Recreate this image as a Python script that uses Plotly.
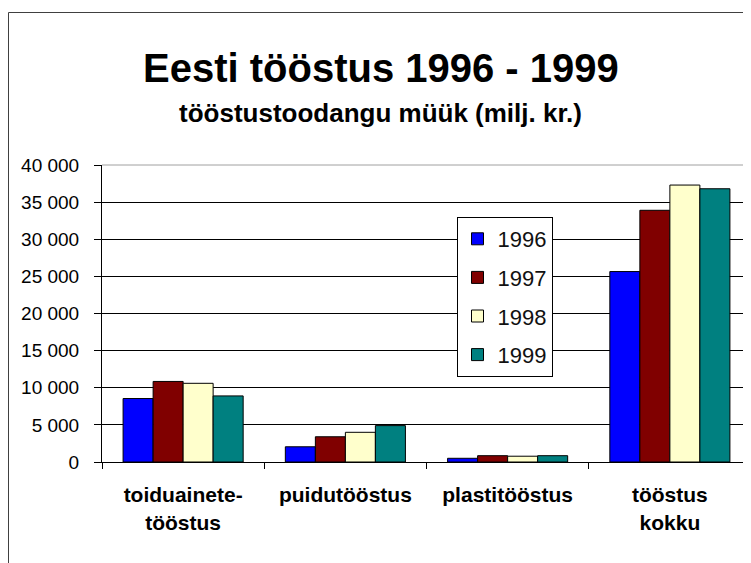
import plotly.graph_objects as go

categories = ["toiduainete-<br>tööstus", "puidutööstus", "plastitööstus", "tööstus<br>kokku"]
years = ["1996", "1997", "1998", "1999"]
sales_1996 = [8550, 2050, 500, 25650]
sales_1997 = [10850, 3400, 850, 33900]
sales_1998 = [10600, 4000, 780, 37300]
sales_1999 = [8900, 4900, 850, 36800]
y_ticks = [0, 5000, 10000, 15000, 20000, 25000, 30000, 35000, 40000]

colors = ["#0000ff", "#800000", "#ffffcc", "#008080"]
FONT = "Liberation Sans, Arial, sans-serif"

# page body has an 8px margin, so the figure is drawn 8px smaller than the window
W, H = 743, 555
L, T, B = 94, 157, 101
PW, PH = W - L, H - T - B


def px_x(x):
    return (x - 8 - L) / PW


def px_y(y):
    return 1 - (y - 8 - T) / PH


fig = go.Figure()
for year, values, color in zip(years, [sales_1996, sales_1997, sales_1998, sales_1999], colors):
    fig.add_trace(
        go.Bar(
            x=categories,
            y=values,
            name=year,
            legendgroup=year,
            marker={"color": color, "line": {"color": "black", "width": 1}},
        )
    )

fig.update_layout(
    width=W,
    height=H,
    paper_bgcolor="white",
    plot_bgcolor="white",
    font={"family": FONT, "color": "black"},
    separators=", ",
    barmode="group",
    bargap=0.26,
    bargroupgap=0,
    margin={"l": L, "r": 0, "t": T, "b": B},
    legend={
        "x": px_x(456.5),
        "y": px_y(217),
        "xanchor": "left",
        "yanchor": "top",
        "bgcolor": "white",
        "bordercolor": "black",
        "borderwidth": 1,
        "font": {"size": 22, "color": "#111111"},
        "traceorder": "grouped",
        "tracegroupgap": 7,
        "itemwidth": 30,
    },
    annotations=[
        {
            "text": "<b>Eesti tööstus 1996 - 1999</b>",
            "xref": "paper",
            "yref": "paper",
            "x": px_x(381),
            "y": px_y(68),
            "xanchor": "center",
            "yanchor": "middle",
            "showarrow": False,
            "font": {"size": 40, "family": FONT},
        },
        {
            "text": "<b>tööstustoodangu müük (milj. kr.)</b>",
            "xref": "paper",
            "yref": "paper",
            "x": px_x(380),
            "y": px_y(113),
            "xanchor": "center",
            "yanchor": "middle",
            "showarrow": False,
            "font": {"size": 26, "family": FONT},
        },
    ],
    shapes=[
        {
            "type": "line",
            "xref": "paper",
            "yref": "paper",
            "x0": px_x(8.5),
            "x1": px_x(8.5),
            "y0": px_y(563),
            "y1": px_y(12.5),
            "line": {"color": "#404040", "width": 1},
        },
        {
            "type": "line",
            "xref": "paper",
            "yref": "paper",
            "x0": px_x(8.5),
            "x1": 1.01,
            "y0": px_y(12.5),
            "y1": px_y(12.5),
            "line": {"color": "#404040", "width": 1},
        },
        {
            "type": "line",
            "xref": "paper",
            "yref": "paper",
            "x0": 0,
            "x1": 1,
            "y0": 1,
            "y1": 1,
            "line": {"color": "#a0a0a0", "width": 1},
        },
    ],
)

fig.update_xaxes(
    showgrid=False,
    showline=True,
    linecolor="black",
    linewidth=1,
    ticks="outside",
    ticklen=6,
    tickcolor="black",
    tickson="boundaries",
    tickfont={"size": 21, "family": FONT, "weight": "bold"},
    ticklabelstandoff=14,
)
fig.update_yaxes(
    range=[0, 40000],
    tickvals=y_ticks,
    tickformat=",d",
    showgrid=True,
    gridcolor="black",
    gridwidth=1,
    showline=True,
    linecolor="black",
    linewidth=1,
    ticks="outside",
    ticklen=7,
    tickcolor="black",
    tickfont={"size": 19, "family": FONT},
    ticklabelstandoff=11,
    zeroline=False,
)

fig.write_html("out.html")
